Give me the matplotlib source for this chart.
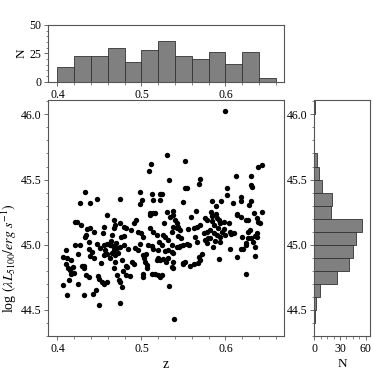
import numpy as np
import matplotlib
matplotlib.use('Agg')
import matplotlib.pyplot as plt
from matplotlib.ticker import AutoMinorLocator

plt.rcParams['font.family'] = ['Liberation Serif', 'DejaVu Serif']
plt.rcParams['mathtext.fontset'] = 'stix'

# redshift and luminosity of each object
z = [0.410, 0.407, 0.411, 0.416, 0.410, 0.412, 0.415, 0.418, 0.416, 0.420, 0.414, 0.407, 0.411,
     0.421, 0.421, 0.423, 0.435, 0.439, 0.434, 0.433, 0.438, 0.427, 0.438, 0.429, 0.431, 0.434,
     0.437, 0.425, 0.431, 0.433, 0.427, 0.432, 0.439, 0.439, 0.428, 0.424,
     0.441, 0.443, 0.442, 0.447, 0.455, 0.454, 0.447, 0.455, 0.459, 0.451, 0.457, 0.455, 0.459,
     0.448, 0.450, 0.453, 0.455, 0.459, 0.446, 0.450, 0.459, 0.443, 0.452,
     0.474, 0.467, 0.469, 0.467, 0.465, 0.475, 0.479, 0.479, 0.475, 0.471, 0.467, 0.465, 0.469,
     0.477, 0.469, 0.467, 0.471, 0.473, 0.475, 0.477, 0.475, 0.479, 0.463, 0.466, 0.470, 0.472,
     0.462, 0.476, 0.478, 0.464,
     0.482, 0.481, 0.483, 0.482, 0.493, 0.491, 0.496, 0.492, 0.496, 0.498, 0.491, 0.498, 0.498,
     0.484, 0.487, 0.486, 0.489,
     0.500, 0.501, 0.502, 0.502, 0.502, 0.502, 0.503, 0.504, 0.506, 0.507, 0.510, 0.514, 0.512,
     0.514, 0.510, 0.514, 0.512, 0.516, 0.511, 0.509, 0.512, 0.514, 0.510, 0.516, 0.518, 0.505,
     0.508, 0.518,
     0.526, 0.528, 0.527, 0.520, 0.522, 0.526, 0.529, 0.532, 0.520, 0.532, 0.520, 0.524, 0.522,
     0.533, 0.530, 0.533, 0.522, 0.525, 0.522, 0.530, 0.534, 0.538, 0.538, 0.536, 0.536, 0.536,
     0.538, 0.538, 0.536, 0.537, 0.539, 0.538, 0.524, 0.528, 0.521, 0.532,
     0.540, 0.542, 0.544, 0.546, 0.542, 0.542, 0.546, 0.550, 0.554, 0.550, 0.558, 0.552, 0.552,
     0.554, 0.550, 0.547, 0.552, 0.556, 0.544, 0.549, 0.557, 0.545, 0.559,
     0.562, 0.566, 0.570, 0.564, 0.568, 0.570, 0.562, 0.576, 0.578, 0.576, 0.578, 0.574, 0.578,
     0.570, 0.569, 0.565, 0.566, 0.572, 0.579, 0.567,
     0.582, 0.586, 0.590, 0.584, 0.590, 0.594, 0.598, 0.594, 0.599, 0.585, 0.592, 0.584, 0.595,
     0.589, 0.583, 0.589, 0.5997, 0.586, 0.591, 0.596, 0.582, 0.588, 0.594, 0.598, 0.584, 0.592,
     0.602, 0.602, 0.604, 0.606, 0.612, 0.609, 0.619, 0.619, 0.614, 0.614, 0.618, 0.610, 0.606,
     0.614, 0.619, 0.607,
     0.639, 0.630, 0.631, 0.632, 0.630, 0.628, 0.634, 0.624, 0.627, 0.637, 0.639, 0.629, 0.627,
     0.620, 0.627, 0.631, 0.635, 0.637, 0.624, 0.625, 0.635, 0.635, 0.625, 0.633, 0.638, 0.621,
     0.643, 0.643, 0.641]

logL = [44.959, 44.908, 44.895, 44.882, 44.849, 44.825, 44.805, 44.831, 44.779, 44.784, 44.728, 44.690, 44.618,
        44.997, 45.177, 45.177, 45.118, 45.125, 45.074, 45.056, 45.023, 44.997, 44.966, 44.838, 44.825, 44.767,
        44.749, 44.702, 44.618, 45.405, 45.323, 44.840, 44.913, 45.323, 45.150, 44.930,
        44.946, 44.900, 44.625, 45.348, 45.138, 45.087, 45.002, 44.997, 45.005, 44.972, 44.959, 44.920, 44.928,
        44.759, 44.741, 44.715, 44.697, 44.715, 44.651, 44.536, 45.228, 45.100, 44.860,
        45.348, 45.190, 45.151, 45.125, 45.074, 45.164, 45.138, 44.997, 44.985, 44.972, 44.959, 44.933, 44.920,
        44.882, 44.869, 44.818, 44.767, 44.728, 44.715, 44.677, 44.554, 45.069, 45.000, 44.990, 45.010, 44.940,
        44.900, 45.060, 44.800, 45.030,
        45.125, 44.836, 44.831, 44.767, 45.190, 45.169, 45.100, 44.972, 44.959, 45.005, 44.856, 45.407, 45.310,
        44.970, 45.110, 44.760, 44.870,
        45.087, 45.346, 45.061, 44.779, 44.754, 44.920, 44.895, 44.869, 44.844, 44.818, 45.125, 45.100, 44.990,
        44.964, 45.228, 45.241, 44.779, 44.772, 45.623, 45.564, 45.390, 45.346, 45.246, 45.246, 45.074, 44.930,
        45.000, 44.880,
        45.074, 45.061, 45.164, 44.900, 44.882, 44.887, 44.869, 44.895, 44.959, 44.959, 44.767, 44.767, 44.749,
        44.682, 45.687, 45.494, 45.389, 45.389, 45.346, 45.251, 45.215, 45.228, 45.138, 45.100, 44.997, 44.946,
        44.933, 44.869, 44.831, 44.818, 44.428, 45.256, 45.000, 44.950, 45.020, 45.040,
        45.189, 45.164, 45.138, 45.112, 45.125, 44.985, 44.992, 44.997, 45.002, 44.856, 44.836, 45.646, 45.437,
        45.437, 45.325, 45.050, 44.870, 45.120, 45.070, 44.860, 45.000, 44.980, 45.210,
        45.125, 45.138, 45.151, 45.061, 44.908, 44.882, 44.856, 45.202, 45.189, 45.036, 45.010, 45.087, 45.100,
        45.507, 45.466, 45.256, 45.020, 44.930, 45.050, 44.860,
        45.112, 45.087, 45.074, 45.220, 45.202, 45.164, 45.177, 45.061, 45.074, 44.985, 44.890, 45.335, 45.333,
        45.294, 45.251, 45.236, 46.025, 45.150, 45.130, 45.100, 45.050, 45.030, 45.020, 45.120, 45.180, 45.190,
        45.436, 45.384, 45.164, 44.964, 45.528, 45.320, 45.366, 45.336, 45.236, 45.228, 45.215, 45.087, 45.100,
        44.908, 44.964, 45.080,
        45.597, 45.528, 45.456, 45.441, 45.333, 45.302, 45.243, 45.189, 45.189, 45.202, 45.177, 45.112, 45.100,
        45.056, 45.048, 45.048, 45.066, 45.061, 45.010, 44.997, 44.985, 44.913, 44.779, 45.020, 45.090, 44.964,
        45.615, 45.248, 45.164]

# histogram of z (bins of 0.02 from 0.40)
z_edges = np.arange(0.40, 0.6601, 0.02)
z_counts = [13, 23, 23, 30, 17, 28, 36, 23, 20, 26, 16, 26, 3]

# histogram of log L (bins of 0.1 from 44.4)
L_edges = np.arange(44.4, 46.101, 0.1)
L_counts = [1, 2, 7, 26, 40, 45, 49, 56, 19, 21, 9, 5, 3, 0, 0, 0, 1]

xlim = (0.389, 0.670)
ylim = (44.30, 46.11)
bar_col = '#808080'
edge_col = '#333333'
spine_col = '#555555'

fig = plt.figure(figsize=(3.74, 3.74), dpi=100)
ax = fig.add_axes([0.129, 0.1016, 0.631, 0.631])
ax_top = fig.add_axes([0.129, 0.7816, 0.631, 0.1516])
ax_right = fig.add_axes([0.8404, 0.1016, 0.149, 0.631])

ax.scatter(z, logL, s=15, c='black', linewidths=0)
ax.set_xlim(*xlim)
ax.set_ylim(*ylim)
ax.set_xticks([0.4, 0.5, 0.6])
ax.set_yticks([44.5, 45.0, 45.5, 46.0])
ax.set_xlabel('z', fontsize=10, labelpad=2)
ax.set_ylabel(r'log $(\lambda L_{5100}/erg\ s^{-1})$', fontsize=10)
ax.yaxis.set_label_coords(-0.122, 0.33)

ax_top.bar(z_edges[:-1], z_counts, width=0.02, align='edge',
           color=bar_col, edgecolor=edge_col, linewidth=0.6)
ax_top.set_xlim(*xlim)
ax_top.set_ylim(0, 50)
ax_top.set_xticks([0.4, 0.5, 0.6])
ax_top.set_yticks([0, 25, 50])
ax_top.set_ylabel('N', fontsize=9.5, labelpad=1)

ax_right.barh(L_edges[:-1], L_counts, height=0.1, align='edge',
              color=bar_col, edgecolor=edge_col, linewidth=0.6)
ax_right.set_ylim(*ylim)
ax_right.set_xlim(0, 65)
ax_right.set_xticks([0, 30, 60])
ax_right.set_yticks([44.5, 45.0, 45.5, 46.0])
ax_right.set_xlabel('N', fontsize=9.5, labelpad=2)

for a in (ax, ax_top, ax_right):
    a.xaxis.set_minor_locator(AutoMinorLocator())
    a.yaxis.set_minor_locator(AutoMinorLocator())
    a.tick_params(labelsize=8.5, color=spine_col, length=3, width=0.6, pad=2)
    a.tick_params(which='minor', length=1.8, width=0.5, color=spine_col)
    for s in a.spines.values():
        s.set_color(spine_col)
        s.set_linewidth(0.8)

fig.savefig('out.png', dpi=100)
